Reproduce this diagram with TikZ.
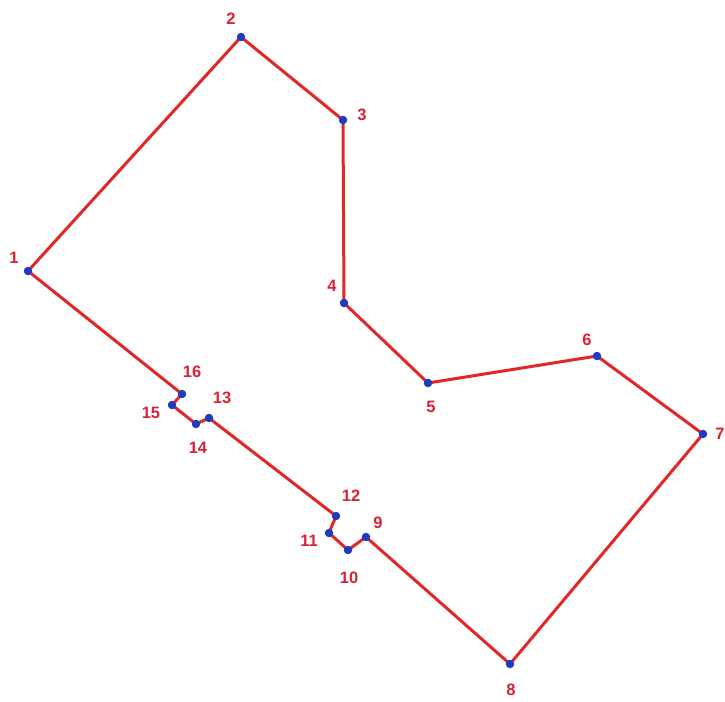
\documentclass[tikz,border=0pt]{standalone}
\usepackage{fontspec}
\setmainfont{Liberation Sans}
\definecolor{edgered}{RGB}{225,40,40}
\definecolor{dotblue}{RGB}{30,60,190}
\definecolor{labred}{RGB}{215,35,55}
\begin{document}
\begin{tikzpicture}[x=1pt,y=-1pt,
  vtx/.style={circle,fill=dotblue,inner sep=0pt,minimum size=8.5pt},
  lab/.style={text=labred,font=\bfseries\fontsize{16.5}{16.5}\selectfont,inner sep=0pt},
  edge/.style={draw=edgered,line width=3pt,line join=round}]
\useasboundingbox[fill=white] (0,0) rectangle (725,701);
\coordinate (p1) at (28,271);
\coordinate (p2) at (241,37);
\coordinate (p3) at (343,120);
\coordinate (p4) at (344,303);
\coordinate (p5) at (428,383);
\coordinate (p6) at (597,356);
\coordinate (p7) at (703,434);
\coordinate (p8) at (510,664);
\coordinate (p9) at (366,537);
\coordinate (p10) at (348,550);
\coordinate (p11) at (329,533);
\coordinate (p12) at (336,516);
\coordinate (p13) at (209,418);
\coordinate (p14) at (196,424);
\coordinate (p15) at (172,405);
\coordinate (p16) at (182,394);
\draw[edge] (p1) -- (p2) -- (p3) -- (p4) -- (p5) -- (p6) -- (p7) -- (p8) -- (p9) -- (p10) -- (p11) -- (p12) -- (p13) -- (p14) -- (p15) -- (p16) -- cycle;
\foreach \i in {1,...,16} \node[vtx] (v\i) at (p\i) {};
\node[lab] (l1) at (14,258) {1};
\node[lab] (l2) at (231,19) {2};
\node[lab] (l3) at (362,115) {3};
\node[lab] (l4) at (332,286) {4};
\node[lab] (l5) at (431,407) {5};
\node[lab] (l6) at (587,340) {6};
\node[lab] (l7) at (720,434) {7};
\node[lab] (l8) at (511,690) {8};
\node[lab] (l9) at (378,523) {9};
\node[lab] (l10) at (349,578) {10};
\node[lab] (l11) at (309,541) {11};
\node[lab] (l12) at (351,496) {12};
\node[lab] (l13) at (222,398) {13};
\node[lab] (l14) at (198,448) {14};
\node[lab] (l15) at (151,413) {15};
\node[lab] (l16) at (192,372) {16};
\end{tikzpicture}
\end{document}
